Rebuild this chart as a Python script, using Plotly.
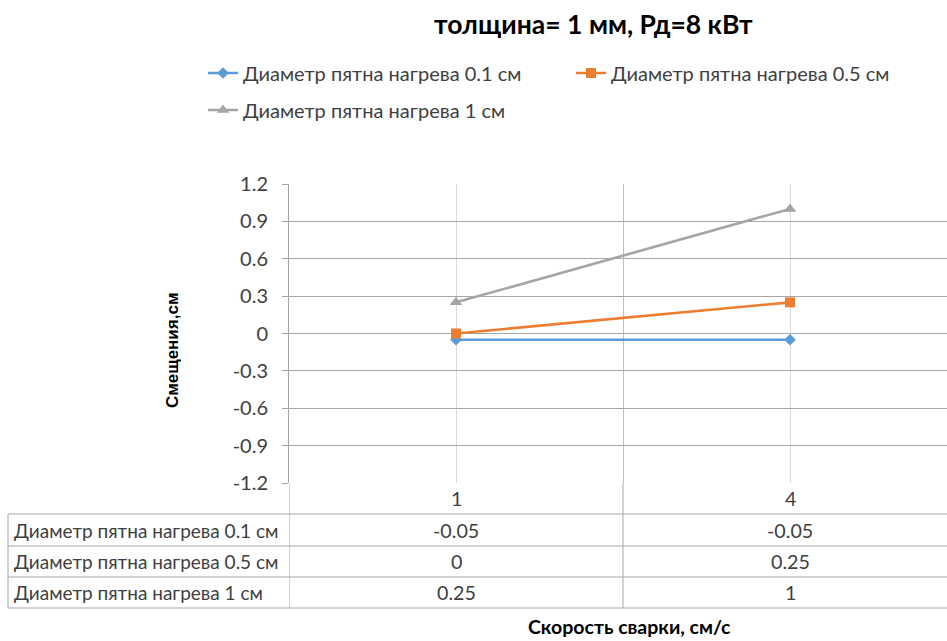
import plotly.graph_objects as go

# --- data -------------------------------------------------------------
speeds = ["1", "4"]                      # Скорость сварки, см/с
series_names = [
    "Диаметр пятна нагрева 0.1 см",
    "Диаметр пятна нагрева 0.5 см",
    "Диаметр пятна нагрева 1 см",
]
spot_01 = [-0.05, -0.05]
spot_05 = [0, 0.25]
spot_10 = [0.25, 1]
y_ticks = [-1.2, -0.9, -0.6, -0.3, 0, 0.3, 0.6, 0.9, 1.2]

series_values = [spot_01, spot_05, spot_10]
colors = ["#5B9BD5", "#ED7D31", "#A5A5A5"]
symbols = ["diamond", "square", "triangle-up"]
msizes = [9, 10, 11]
legend_ids = ["legend", "legend", "legend2"]

W, H = 947, 641
FONT = "Lato"
TXT = "#404040"

# plot area in pixels
X0, X1 = 289, 947
Y_TOP, Y_BOT = 184, 483
BAND = 334  # width of one category band


def px_x(p):
    return p / W


def px_y(p):
    return 1 - p / H


xpos = list(range(len(speeds)))

fig = go.Figure()
for name, vals, col, sym, ms, lg in zip(series_names, series_values, colors,
                                         symbols, msizes, legend_ids):
    fig.add_trace(go.Scatter(
        x=xpos, y=vals, name=name, mode="lines+markers",
        line=dict(color=col, width=2.6),
        marker=dict(symbol=sym, size=ms, color=col),
        legend=lg,
    ))

x_lo = -0.5
x_hi = -0.5 + (X1 - X0) / BAND

legend_common = dict(
    orientation="h", xanchor="left", yanchor="middle",
    font=dict(family=FONT, size=20, color=TXT),
    bgcolor="rgba(0,0,0,0)", borderwidth=0,
)

fig.update_layout(
    width=W, height=H,
    margin=dict(l=0, r=0, t=0, b=0, autoexpand=False),
    paper_bgcolor="white", plot_bgcolor="white",
    font=dict(family=FONT, size=20, color=TXT),
    showlegend=True,
    legend=dict(x=px_x(203), y=px_y(73), entrywidth=323, entrywidthmode="pixels",
                **legend_common),
    legend2=dict(x=px_x(203), y=px_y(110), **legend_common),
    xaxis=dict(
        domain=[px_x(X0), 1],
        range=[x_lo, x_hi],
        tickvals=xpos, showticklabels=False, ticks="",
        showgrid=True, gridcolor="#d9d9d9", gridwidth=1,
        minor=dict(tickvals=[0.5], showgrid=True, gridcolor="#bfbfbf", gridwidth=1),
        zeroline=False, showline=False, fixedrange=True, automargin=False,
    ),
    yaxis=dict(
        domain=[px_y(Y_BOT), px_y(Y_TOP)],
        range=[-1.2, 1.2],
        tickvals=y_ticks, ticktext=[f"{v:g}" for v in y_ticks],
        ticks="outside", ticklen=6, tickcolor="#a6a6a6",
        ticklabelstandoff=10,
        tickfont=dict(family=FONT, size=20, color=TXT),
        showgrid=True, gridcolor="#a6a6a6", gridwidth=1,
        zeroline=False, showline=True, linecolor="#a6a6a6", linewidth=1,
        fixedrange=True, automargin=False,
    ),
)


def label(text, x, y, size, xref="paper", family=FONT, color=TXT,
          xanchor="center", angle=0):
    fig.add_annotation(text=text, xref=xref, yref="paper", x=x, y=y,
                       xanchor=xanchor, yanchor="middle", showarrow=False,
                       textangle=angle,
                       font=dict(family=family, size=size, color=color))


# title and axis titles
label("<b>толщина= 1 мм, Рд=8 кВт</b>", px_x(593), px_y(24), 26.5, color="#000000")
label("<b>Смещения,см</b>", px_x(172), px_y(350), 17,
      family="Liberation Sans", color="#000000", angle=-90)
label("<b>Скорость сварки, см/с</b>", px_x(629), px_y(626), 19.5, color="#000000")

# data table under the axis
ROWS = [483, 514, 546, 577, 608]
T_LEFT = 8
LINE = dict(color="#a6a6a6", width=1)
for r in ROWS[1:]:
    fig.add_shape(type="line", xref="paper", yref="paper",
                  x0=px_x(T_LEFT), x1=1, y0=px_y(r), y1=px_y(r), line=LINE)
fig.add_shape(type="line", xref="paper", yref="paper",
              x0=px_x(T_LEFT), x1=px_x(T_LEFT), y0=px_y(ROWS[1]), y1=px_y(ROWS[-1]),
              line=LINE)
for xb in [-0.5, 0.5]:
    fig.add_shape(type="line", xref="x", yref="paper",
                  x0=xb, x1=xb, y0=px_y(ROWS[0]), y1=px_y(ROWS[-1]), line=LINE)

# header row: category labels
for xi, lab in zip(xpos, speeds):
    label(lab, xi, px_y((ROWS[0] + ROWS[1]) / 2), 19.7, xref="x")

# body rows: series name + values
for i, (name, vals) in enumerate(zip(series_names, series_values)):
    yc = px_y((ROWS[i + 1] + ROWS[i + 2]) / 2)
    label(name, px_x(12), yc, 19, xanchor="left")
    for xi, v in zip(xpos, vals):
        label(f"{v:g}", xi, yc, 19.7, xref="x")

fig.write_html("out.html")
